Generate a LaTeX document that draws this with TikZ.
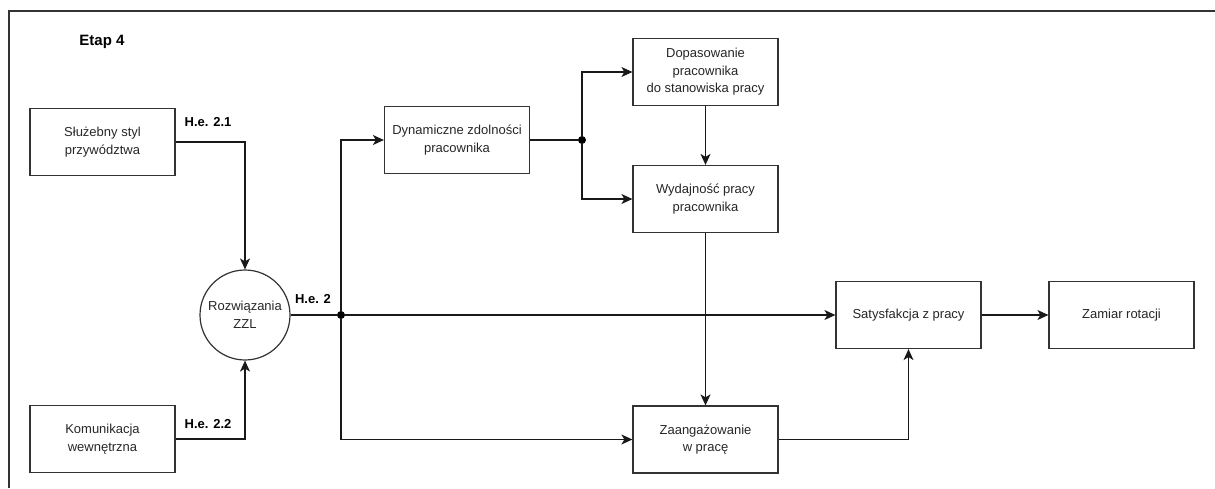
\documentclass[tikz,border=0pt]{standalone}
\usepackage{fontspec}
\setmainfont{Liberation Sans}
\usepackage{tikz}
\usetikzlibrary{arrows.meta}
\tikzstyle{box}=[draw=black!80, line width=1.2pt, minimum width=145pt, minimum height=67pt, align=center, inner sep=2pt, text=black!85, font=\fontsize{13}{17.5}\selectfont]
\tikzstyle{circ}=[circle, draw=black!80, line width=1.2pt, minimum size=90pt, inner sep=0pt, align=center, text=black!85, font=\fontsize{13}{17.5}\selectfont]
\tikzstyle{junction}=[circle, fill=black, inner sep=0pt, minimum size=8pt]
\tikzstyle{hyp}=[font=\fontsize{13}{16}\selectfont\bfseries, inner sep=0pt]
\tikzstyle{arrow}=[draw=black!90, line width=1.2pt, -{Stealth[length=11pt, width=10pt, inset=3pt]}]
\tikzstyle{link}=[draw=black!90, line width=1.2pt]

\begin{document}
\begin{tikzpicture}[x=1pt, y=-1pt]
		   \useasboundingbox (0, 0) rectangle (1215, 488);
		   % frame
		   \draw[black!80, line width=1.2pt] (9, 488) -- (9, 11) -- (1215, 11);
		   \node[hyp, font=\fontsize{15}{18}\selectfont\bfseries] (etap) at (102, 42) {Etap 4};
		   \begin{scope}
			   \node (sluzebny) at (102.5, 142)[box] {Służebny styl\\przywództwa};
			   \node (komunikacja) at (102.5, 439)[box] {Komunikacja\\wewnętrzna};
			   \node (zzl) at (245, 315)[circ] {Rozwiązania\\ZZL};
			   \node (dynamiczne) at (457, 140)[box] {Dynamiczne zdolności\\pracownika};
			   \node (dopasowanie) at (705.5, 72)[box] {Dopasowanie\\pracownika\\do stanowiska pracy};
			   \node (wydajnosc) at (705.5, 199)[box] {Wydajność pracy\\pracownika};
			   \node (zaangazowanie) at (705.5, 439.5)[box] {Zaangażowanie\\w pracę};
			   \node (satysfakcja) at (908.5, 315)[box] {Satysfakcja z pracy};
			   \node (zamiar) at (1121.5, 315)[box] {Zamiar rotacji};
			   \node (p1) at (341, 315)[junction] {};
			   \node (p2) at (582, 140)[junction] {};
			   \node (he21) at (208, 122)[hyp] {H.e. 2.1};
			   \node (he22) at (208, 424)[hyp] {H.e. 2.2};
			   \node (he2) at (313, 299)[hyp] {H.e. 2};
		   \end{scope}
		   \begin{scope}
			   \path [arrow] (sluzebny) -| (zzl);
			   \path [arrow] (komunikacja) -| (zzl);
			   \path [link] (zzl) -- (p1);
			   \path [arrow] (p1) -- (satysfakcja);
			   \path [arrow] (p1) |- (dynamiczne);
			   \path [arrow] (p1) |- (zaangazowanie);
			   \path [link] (dynamiczne) -- (p2);
			   \path [arrow] (p2) |- (dopasowanie);
			   \path [arrow] (p2) |- (wydajnosc);
			   \path [arrow] (dopasowanie) -- (wydajnosc);
			   \path [arrow] (wydajnosc) -- (zaangazowanie);
			   \path [arrow] (zaangazowanie) -| (satysfakcja);
			   \path [arrow] (satysfakcja) -- (zamiar);
		   \end{scope}
	   \end{tikzpicture}
\end{document}
